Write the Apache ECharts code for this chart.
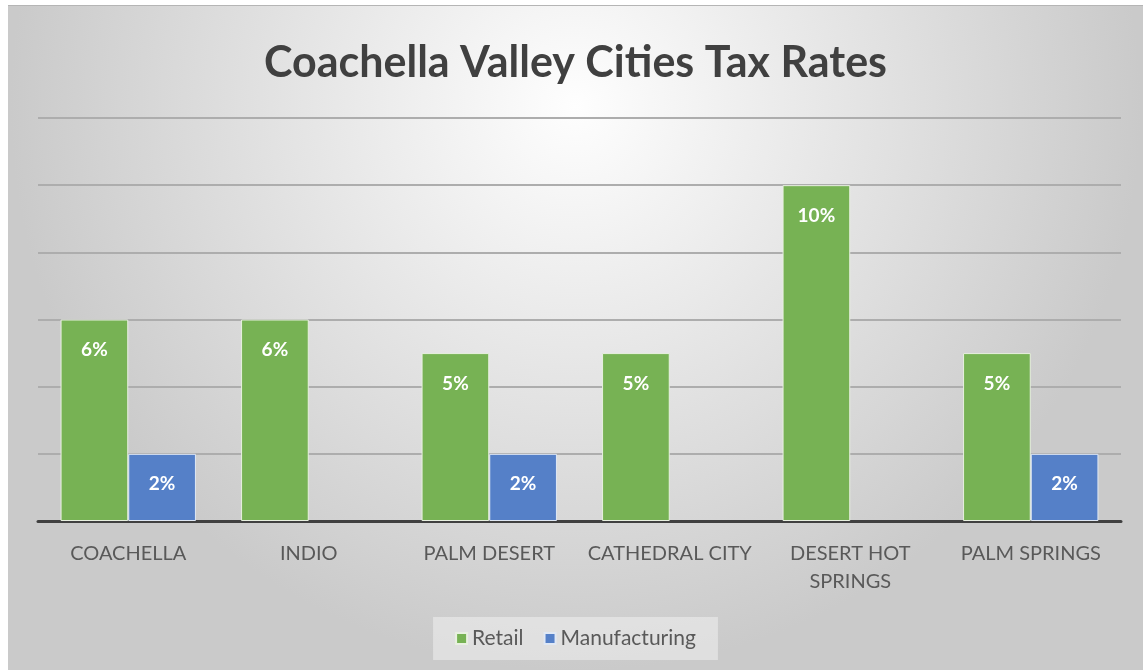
<!DOCTYPE html>
<html><head><meta charset="utf-8">
<script src="https://cdn.jsdelivr.net/npm/echarts@6/dist/echarts.min.js"></script>
<style>
html,body{margin:0;padding:0;background:#fff;width:1143px;height:670px;overflow:hidden}
#c{position:absolute;left:8px;top:5px;width:1135px;height:665px;border-top:1px solid #b5b5b5}
</style></head><body><div id="c"></div>
<script>
var categories = ['COACHELLA','INDIO','PALM DESERT','CATHEDRAL CITY','DESERT HOT\nSPRINGS','PALM SPRINGS'];
var retail = [6, 6, 5, 5, 10, 5];
var manufacturing = [2, null, 2, null, null, 2];
var yTicks = {min: 0, max: 12, interval: 2};

var chart = echarts.init(document.getElementById('c'));
var labelStyle = {show: true, position: 'insideTop', distance: 21, color: '#fff', fontWeight: 'bold', fontSize: 19,
  fontFamily: 'Lato', formatter: function(p){ return p.value + '%'; }};
chart.setOption({
  animation: false,
  backgroundColor: {type: 'radial', x: 0.5, y: 0.15, r: 0.85,
    colorStops: [{offset: 0, color: '#fefefe'}, {offset: 1, color: '#cacaca'}]},
  title: {text: 'Coachella Valley Cities Tax Rates', left: 'center', top: 31,
    textStyle: {fontFamily: 'Lato', fontWeight: 'bold', fontSize: 43, color: '#404040'}},
  legend: {bottom: 11, left: 'center', itemWidth: 11, itemHeight: 11, itemGap: 20,
    padding: [11, 22, 11, 22], backgroundColor: 'rgba(240,240,240,0.55)',
    textStyle: {fontFamily: 'Lato', fontSize: 21, color: '#595959'},
    data: [{name: 'Retail', icon: 'rect'}, {name: 'Manufacturing', icon: 'rect'}]},
  grid: {left: 30, right: 22, top: 112, bottom: 150},
  xAxis: {type: 'category', data: categories,
    axisLine: {lineStyle: {color: '#404040', width: 3}},
    axisTick: {show: false},
    axisLabel: {interval: 0, fontFamily: 'Lato', fontSize: 20, color: '#595959', margin: 19, lineHeight: 28}},
  yAxis: {type: 'value', min: yTicks.min, max: yTicks.max, interval: yTicks.interval,
    axisLabel: {show: false}, axisLine: {show: false}, axisTick: {show: false},
    splitLine: {lineStyle: {color: '#adadad', width: 2}}},
  series: [
    {name: 'Retail', type: 'bar', data: retail, barGap: '0%', barCategoryGap: '25%',
     itemStyle: {color: '#77b254', borderColor: '#e8f0e0', borderWidth: 1}, label: labelStyle},
    {name: 'Manufacturing', type: 'bar', data: manufacturing,
     itemStyle: {color: '#5580c8', borderColor: '#e0e8f4', borderWidth: 1}, label: labelStyle}
  ]
});
</script></body></html>
